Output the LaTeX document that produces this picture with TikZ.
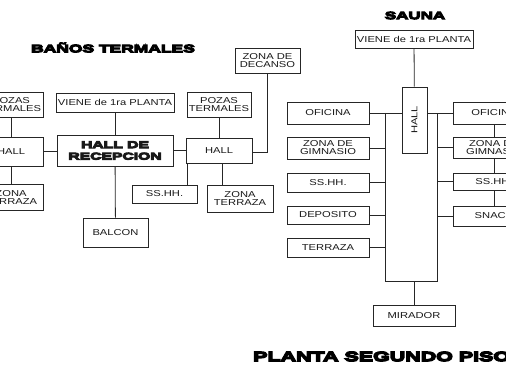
\documentclass[tikz,border=0pt]{standalone}
\usepackage{fontspec}
\newfontfamily\boxfont{Liberation Sans}[FakeStretch=1.3]
\newfontfamily\heavyfont{Liberation Sans}[UprightFont={* Bold},FakeStretch=1.6,FakeBold=10]
\begin{document}
\begin{tikzpicture}[x=1pt,y=-1pt,
  line/.style={draw=black!85,line width=0.8pt},
  box/.style={line,fill=white,inner sep=0pt,align=center,text=black!90,
    font=\boxfont\fontsize{8.6}{8}\selectfont},
  bighead/.style={inner sep=0pt,text=black,font=\heavyfont\fontsize{10.9}{10}\selectfont},
]
\useasboundingbox (0,0) rectangle (506,366);
\fill[white] (0,0) rectangle (506,366);
\clip (0,0) rectangle (506,366);

% ---------- titles ----------
\node[bighead] (tbanos) at (113,47.5) {BAÑOS TERMALES};
\node[bighead,font=\heavyfont\fontsize{10.6}{10}\selectfont] (tsauna) at (415,15.5) {SAUNA};
\node[bighead,font=\heavyfont\fontsize{13.4}{12}\selectfont,anchor=west] (tplanta) at (253,356.5) {PLANTA SEGUNDO PISO};

% ---------- baños termales ----------
\node[box,minimum width=64pt,minimum height=25pt] (lpozas) at (11,104.5) {POZAS\\TERMALES};
\node[box,minimum width=64pt,minimum height=29pt] (lhall) at (11,151.5) {HALL};
\node[box,minimum width=64pt,minimum height=26pt] (lzona) at (11,197) {ZONA\\TERRAZA};
\node[box,minimum width=118pt,minimum height=19pt] (viene1) at (115,102.5) {VIENE de 1ra PLANTA};
\node[box,minimum width=116pt,minimum height=31pt,font=\heavyfont\fontsize{9.8}{11.5}\selectfont] (hallrec) at (115,150.5) {HALL DE\\RECEPCION};
\node[box,minimum width=65pt,minimum height=29pt] (balcon) at (115.5,232.5) {BALCON};
\node[box,minimum width=64pt,minimum height=25pt] (rpozas) at (219,104.5) {POZAS\\TERMALES};
\node[box,minimum width=66pt,minimum height=25pt] (rhall) at (219,150.5) {HALL};
\node[box,minimum width=65pt,minimum height=25pt] (decanso) at (267.5,60.5) {ZONA DE\\DECANSO};
\node[box,minimum width=65pt,minimum height=18pt] (sshh1) at (164.5,194) {SS.HH.};
\node[box,minimum width=66pt,minimum height=27pt] (rzona) at (240,198.5) {ZONA\\TERRAZA};

\draw[line] (lpozas) -- (lhall);
\draw[line] (lhall) -- (lzona);
\draw[line] (lhall.east) -- (lhall.east -| hallrec.west);
\draw[line] (viene1) -- (hallrec);
\draw[line] (hallrec) -- (balcon);
\draw[line] (hallrec.east) -- (hallrec.east -| rhall.west);
\draw[line] (rpozas) -- (rhall);
\draw[line] ([yshift=-1.5pt]rhall.east) -| (decanso.south);
\draw[line] ([xshift=2pt]rhall.south west) -- ([xshift=2pt]rhall.south west |- sshh1.north);
\draw[line] ([xshift=3pt]rhall.south) -- ([xshift=3pt]rhall.south |- rzona.north);

% ---------- sauna ----------
\node[box,minimum width=118pt,minimum height=18pt] (viene2) at (414,39) {VIENE de 1ra PLANTA};
\node[box,minimum width=25pt,minimum height=66pt] (shall) at (414.5,120) {};
\node[rotate=90,inner sep=0pt,text=black!90,font=\boxfont\fontsize{8.6}{8}\selectfont] (shalltxt) at (shall.center) {HALL};

\node[box,minimum width=82pt,minimum height=22pt] (ofi1) at (328,113) {OFICINA};
\node[box,minimum width=82pt,minimum height=22pt] (gim1) at (328,148) {ZONA DE\\GIMNASIO};
\node[box,minimum width=82pt,minimum height=19pt] (ss1) at (328,182.5) {SS.HH.};
\node[box,minimum width=82pt,minimum height=18pt] (dep) at (328,215) {DEPOSITO};
\node[box,minimum width=82pt,minimum height=19pt] (ter) at (328,247.5) {TERRAZA};

\node[box,minimum width=82pt,minimum height=22pt] (ofi2) at (494,113) {OFICINA};
\node[box,minimum width=82pt,minimum height=21pt] (gim2) at (494,147.5) {ZONA DE\\GIMNASIO};
\node[box,minimum width=82pt,minimum height=17pt] (ss2) at (494,181.5) {SS.HH.};
\node[box,minimum width=82pt,minimum height=20pt] (snack) at (494,216) {SNACK};

\node[box,minimum width=82pt,minimum height=21pt] (mirador) at (414,315.5) {MIRADOR};

\coordinate (lb) at (385,281);
\coordinate (rb) at (437,281);

\draw[line] (viene2) -- (shall);
\draw[line] (ofi1.east) -- (ofi1.east -| shall.west);
\draw[line] (shall.east |- ofi2.west) -- (ofi2.west);
\draw[line] (ofi1.east -| lb) -- (lb) -- (rb) -- (rb |- ofi2.west);
\draw[line] (gim1.east) -- (gim1.east -| lb);
\draw[line] (ss1.east) -- (ss1.east -| lb);
\draw[line] (dep.east) -- (dep.east -| lb);
\draw[line] (ter.east) -- (ter.east -| lb);
\draw[line] (gim2.west) -- (gim2.west -| rb);
\draw[line] (ss2.west) -- (ss2.west -| rb);
\draw[line] (snack.west) -- (snack.west -| rb);
\draw[line] (ofi2) -- (gim2);
\draw[line] (gim2) -- (ss2);
\draw[line] (ss2) -- (snack);
\draw[line] (mirador.north) -- (mirador.north |- lb);
\end{tikzpicture}
\end{document}
